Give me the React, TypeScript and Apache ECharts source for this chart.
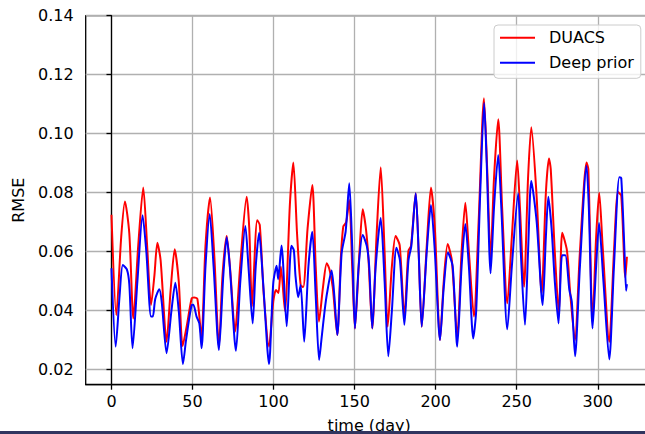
import { useEffect, useRef } from 'react';
import * as echarts from 'echarts';

const FONT = 'DejaVu Sans';

const xTicks = [0, 50, 100, 150, 200, 250, 300];
const yTicks = [0.02, 0.04, 0.06, 0.08, 0.1, 0.12, 0.14];

const seriesNames = ['DUACS', 'Deep prior'];

const duacsDays = [
  0, 3, 6, 8.3, 11, 13.5, 16.5, 19.6, 22, 24.4, 26.5, 28.3, 30.3, 34, 36.5, 39, 41.5, 43.9, 46.5, 49.5,
  51, 53, 55.5, 58, 60.8, 63.5, 66.3, 68.5, 71.1, 73.5, 76.2, 79.5, 83.4, 85, 86.7, 89.9, 91.5, 94, 97.2, 99.8,
  101.5, 103, 104.5, 107, 110.1, 112.2, 114.5, 116.7, 118.3, 121, 123.9, 126, 128, 130.5, 132.8, 134.5, 136.5, 139.3, 141.5, 143,
  144.8, 146.7, 148.5, 150.2, 153, 155, 157, 158.5, 160.9, 163.5, 166.1, 168.5, 170.4, 173, 175.3, 177.8, 180.7, 183.2, 184.8, 187.7,
  189.5, 191.4, 194.5, 197.1, 199.5, 202.7, 205, 207.4, 210, 213.3, 216, 218.3, 220.5, 223.6, 226.5, 229.8, 231.8, 233.9, 236, 238.6,
  241, 244.2, 247, 250.3, 252, 254.5, 257, 259, 262.3, 265.4, 268, 269.9, 271, 273.5, 276, 278.1, 281, 283, 285.9, 289,
  293.1, 294.2, 296.8, 299, 300.9, 303, 307.1, 310, 312.5, 314.5, 317, 318,
];
const duacsRmse = [
  0.0725, 0.0385, 0.065, 0.077, 0.0662, 0.0374, 0.062, 0.0818, 0.062, 0.0419, 0.052, 0.063, 0.0572, 0.0295, 0.047, 0.0608, 0.05, 0.028, 0.035, 0.0442,
  0.0445, 0.044, 0.031, 0.062, 0.0784, 0.058, 0.0278, 0.052, 0.0653, 0.052, 0.0329, 0.056, 0.0786, 0.068, 0.0414, 0.0707, 0.069, 0.045, 0.0278, 0.0431,
  0.047, 0.046, 0.055, 0.04, 0.0764, 0.0902, 0.066, 0.0487, 0.048, 0.068, 0.0826, 0.055, 0.0363, 0.048, 0.0561, 0.054, 0.048, 0.0318, 0.058, 0.0685,
  0.07, 0.0775, 0.055, 0.034, 0.06, 0.0744, 0.0677, 0.058, 0.034, 0.065, 0.0886, 0.06, 0.0346, 0.055, 0.0653, 0.0622, 0.038, 0.0603, 0.062, 0.0798,
  0.06, 0.0346, 0.062, 0.0818, 0.068, 0.0301, 0.05, 0.0626, 0.057, 0.0312, 0.06, 0.0766, 0.06, 0.038, 0.07, 0.112, 0.088, 0.0578, 0.085, 0.1049,
  0.075, 0.0425, 0.065, 0.0909, 0.075, 0.0481, 0.085, 0.1022, 0.0786, 0.0459, 0.08, 0.0916, 0.088, 0.06, 0.039, 0.0664, 0.0604, 0.046, 0.0301, 0.06,
  0.0902, 0.088, 0.0362, 0.065, 0.08, 0.062, 0.0295, 0.06, 0.0802, 0.079, 0.0513, 0.0583,
];

const deepDays = [
  0, 2.6, 5, 7, 9.5, 11, 13, 16, 19.2, 21.5, 24.4, 25.5, 27, 29.5, 31, 34, 37, 39.4, 41.5, 44.1,
  46, 49.5, 50.5, 52.5, 54.2, 55.6, 58, 60.6, 63, 66.3, 69, 71.1, 73, 76.8, 79.5, 82.6, 84.5, 87.1, 89, 91.1,
  93.5, 97.2, 99.8, 101.9, 102.8, 104.9, 108.1, 111, 112.5, 113.5, 115.2, 116.7, 118.9, 121.5, 123.9, 126, 128.1, 129.5, 131.5, 133,
  135.8, 137.5, 139.3, 142, 144.5, 146.7, 148.5, 150.2, 152.5, 155, 157.5, 159, 160.9, 163, 166.1, 168.5, 170.8, 173, 175.8, 178,
  180.7, 183.2, 185, 187.7, 189.5, 191.4, 194.5, 197.1, 199.5, 202.7, 205, 207.6, 210.5, 213.3, 216, 218.3, 220.5, 223.2, 225, 227.5,
  229.9, 231.5, 233.9, 236, 238.6, 240.5, 244.2, 247, 250.9, 252.5, 255.1, 257, 259, 262.3, 266, 268, 269.5, 271.5, 273.5, 275.8,
  278, 280, 282.5, 284, 286, 289, 293.1, 294.5, 296.8, 299, 300.8, 303.5, 307.1, 310, 313.3, 314.5, 316.5, 317.5, 318,
];
const deepRmse = [
  0.0544, 0.0278, 0.045, 0.0555, 0.054, 0.049, 0.0273, 0.05, 0.0724, 0.06, 0.038, 0.038, 0.044, 0.0473, 0.043, 0.0256, 0.04, 0.0495, 0.04, 0.0219,
  0.03, 0.0419, 0.042, 0.038, 0.0357, 0.0273, 0.055, 0.0728, 0.055, 0.0267, 0.052, 0.0649, 0.055, 0.0264, 0.05, 0.0687, 0.055, 0.0357, 0.055, 0.0664,
  0.05, 0.0219, 0.0493, 0.0552, 0.0507, 0.0621, 0.0347, 0.062, 0.0605, 0.052, 0.0446, 0.0487, 0.0295, 0.055, 0.0668, 0.045, 0.0233, 0.03, 0.04, 0.046,
  0.0536, 0.045, 0.0318, 0.0595, 0.067, 0.0832, 0.062, 0.034, 0.055, 0.0657, 0.062, 0.055, 0.034, 0.055, 0.0714, 0.05, 0.0246, 0.04, 0.0613, 0.057,
  0.0352, 0.057, 0.062, 0.0798, 0.06, 0.0346, 0.06, 0.0758, 0.06, 0.0301, 0.048, 0.0597, 0.055, 0.0278, 0.055, 0.0694, 0.055, 0.0306, 0.04, 0.08,
  0.1104, 0.09, 0.0527, 0.075, 0.0928, 0.075, 0.0337, 0.055, 0.0797, 0.06, 0.0352, 0.06, 0.084, 0.0702, 0.0419, 0.065, 0.0786, 0.068, 0.05, 0.0357,
  0.0588, 0.0588, 0.047, 0.043, 0.0246, 0.055, 0.0891, 0.075, 0.034, 0.055, 0.0697, 0.05, 0.0235, 0.055, 0.0852, 0.085, 0.06, 0.0468, 0.049,
];

export default function App() {
  const ref = useRef<HTMLDivElement>(null);

  useEffect(() => {
    document.body.style.margin = '0';
    if (!ref.current) return;
    const chart = echarts.init(ref.current, null, { renderer: 'svg', width: 645, height: 434 });

    const axisText = { fontFamily: FONT, fontSize: 16, color: '#000' };

    chart.setOption({
      animation: false,
      backgroundColor: '#ffffff',
      textStyle: { fontFamily: FONT },
      grid: {
        left: 85.7,
        top: 15.7,
        width: 567,
        height: 369,
        show: true,
        borderColor: '#000',
        borderWidth: 1.3,
        backgroundColor: 'transparent',
        containLabel: false,
        outerBoundsMode: 'none',
      },
      legend: {
        orient: 'vertical',
        left: 494,
        top: 25,
        padding: [4.7, 7, 7.6, 6],
        icon: 'rect',
        itemWidth: 35,
        itemHeight: 2,
        itemGap: 9,
        backgroundColor: 'rgba(255,255,255,0.8)',
        borderColor: '#cccccc',
        borderWidth: 1,
        borderRadius: 4,
        textStyle: { ...axisText, lineHeight: 16, padding: [0, 0, 0, 9] },
        data: seriesNames,
      },
      xAxis: {
        type: 'value',
        min: -15.9,
        max: 333.9,
        name: 'time (day)',
        nameLocation: 'middle',
        nameGap: 33,
        nameTextStyle: axisText,
        axisLine: { show: true, lineStyle: { color: '#000', width: 1.3 } },
        axisTick: { show: true, length: 5, customValues: xTicks, lineStyle: { color: '#000', width: 1.3 } },
        axisLabel: { ...axisText, margin: 9, customValues: xTicks, formatter: (v: number) => String(v) },
        splitLine: { show: true, lineStyle: { color: '#b0b0b0', width: 1.3 } },
      },
      yAxis: {
        type: 'value',
        min: 0.01492,
        max: 0.14,
        name: 'RMSE',
        nameLocation: 'middle',
        nameGap: 59,
        nameTextStyle: axisText,
        axisLine: { show: true, lineStyle: { color: '#000', width: 1.3 } },
        axisTick: { show: true, length: 5, customValues: yTicks, lineStyle: { color: '#000', width: 1.3 } },
        axisLabel: { ...axisText, margin: 12, customValues: yTicks, formatter: (v: number) => v.toFixed(2) },
        splitLine: { show: true, lineStyle: { color: '#b0b0b0', width: 1.3 } },
      },
      series: [
        {
          name: seriesNames[0],
          type: 'line',
          data: duacsDays.map((d, i) => [d, duacsRmse[i]]),
          showSymbol: false,
          symbol: 'none',
          smooth: 0.25,
          lineStyle: { color: '#ff0000', width: 2 },
          itemStyle: { color: '#ff0000' },
          z: 3,
        },
        {
          name: seriesNames[1],
          type: 'line',
          data: deepDays.map((d, i) => [d, deepRmse[i]]),
          showSymbol: false,
          symbol: 'none',
          smooth: 0.25,
          lineStyle: { color: '#0000ff', width: 2 },
          itemStyle: { color: '#0000ff' },
          z: 4,
        },
      ],
      graphic: [
        {
          type: 'rect',
          left: 0,
          top: 431,
          shape: { width: 645, height: 3 },
          style: { fill: '#31355f' },
          z: 100,
        },
      ],
    });

    return () => chart.dispose();
  }, []);

  return <div ref={ref} style={{ width: 645, height: 434 }} />;
}
